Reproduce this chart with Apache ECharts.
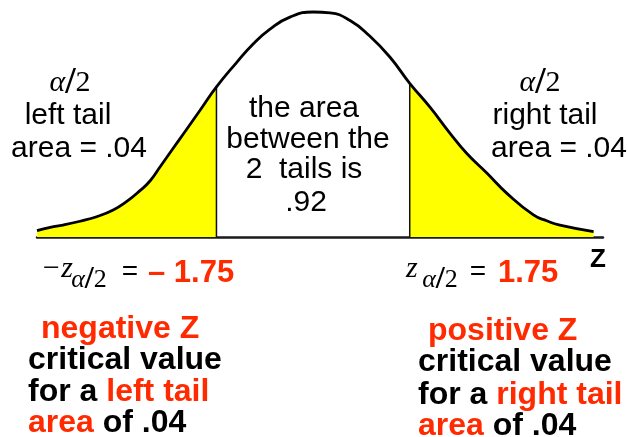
<!DOCTYPE html>
<html><head><meta charset="utf-8">
<script src="https://cdn.jsdelivr.net/npm/echarts@6/dist/echarts.min.js"></script>
<style>html,body{margin:0;padding:0;background:#fff}#c{width:628px;height:437px}</style>
</head><body><div id="c"></div>
<script>
// z position (standard units) and relative curve height
const zValues = [-5.0,-4.76,-4.53,-4.22,-3.92,-3.62,-3.38,-3.14,-2.95,-2.77,-2.54,-2.35,-2.05,-1.75,-1.39,-1.09,-0.78,-0.42,0,0.31,0.67,1.03,1.39,1.75,2.12,2.48,2.78,3.15,3.51,3.99,4.23,4.47,5.08];
const heights = [0.028,0.043,0.053,0.070,0.090,0.120,0.157,0.205,0.250,0.312,0.392,0.458,0.562,0.667,0.774,0.857,0.924,0.977,1.0,0.996,0.962,0.892,0.800,0.683,0.576,0.461,0.372,0.283,0.194,0.098,0.072,0.053,0.024];
const criticalValues = [-1.75, 1.75];
const tailArea = '.04';
const middleArea = '.92';

const RED = '#ff2a00';
const curve = zValues.map((z, i) => [z, heights[i]]);
const leftTail = curve.filter(p => p[0] <= criticalValues[0]);
const rightTail = curve.filter(p => p[0] >= criticalValues[1]);
const hAt = z => curve.find(p => p[0] === z)[1];

const chart = echarts.init(document.getElementById('c'), null, {renderer: 'canvas'});
const SANS = 'Liberation Sans, Arial, sans-serif';
const SERIF = 'Liberation Serif, Times New Roman, serif';
function t(x, y, text, opts) {
  return {type: 'text', z: 100, style: Object.assign({x: x, y: y, text: text, fill: '#000', font: '30px ' + SANS, align: 'center', verticalAlign: 'middle'}, opts || {})};
}
const richBase = {
  k: {fontFamily: SANS, fontWeight: 'bold', fontSize: 32, fill: '#000'},
  r: {fontFamily: SANS, fontWeight: 'bold', fontSize: 32, fill: RED}
};
function rt(x, y, text) {
  return {type: 'text', z: 100, style: {x: x, y: y, text: text, align: 'left', verticalAlign: 'middle', rich: richBase, font: 'bold 32px ' + SANS, fill: '#000'}};
}
function alpha2(x, y, size) {
  return {type: 'text', z: 100, style: {x: x, y: y, align: 'center', verticalAlign: 'middle',
    text: '{a|α}{s|/}{b|2}',
    rich: {
      a: {fontFamily: SERIF, fontStyle: 'italic', fontSize: size, fill: '#000'},
      s: {fontFamily: SERIF, fontWeight: 'bold', fontSize: size * 1.25, fill: '#000'},
      b: {fontFamily: SERIF, fontSize: size, fill: '#000'}
    }}};
}

chart.setOption({
  animation: false,
  grid: {left: 37, right: 25, top: 12, bottom: 200},
  xAxis: {type: 'value', min: -5.0, max: 5.25, axisLine: {onZero: true, lineStyle: {color: '#1a1a1a', width: 2.5}},
    axisTick: {show: false}, axisLabel: {show: false}, splitLine: {show: false}},
  yAxis: {type: 'value', min: 0, max: 1, show: false, splitLine: {show: false}},
  series: [
    {type: 'line', data: leftTail, smooth: 0.5, symbol: 'none', clip: false, lineStyle: {width: 0}, areaStyle: {color: '#ffff00', opacity: 1}, z: 1},
    {type: 'line', data: rightTail, smooth: 0.5, symbol: 'none', clip: false, lineStyle: {width: 0}, areaStyle: {color: '#ffff00', opacity: 1}, z: 1},
    {type: 'line', data: [[criticalValues[0], 0], [criticalValues[0], hAt(criticalValues[0])]], symbol: 'none', lineStyle: {color: '#111', width: 1.5}, z: 2},
    {type: 'line', data: [[criticalValues[1], 0], [criticalValues[1], hAt(criticalValues[1])]], symbol: 'none', lineStyle: {color: '#111', width: 1.5}, z: 2},
    {type: 'line', data: curve, smooth: 0.5, symbol: 'none', clip: false, lineStyle: {color: '#000', width: 2.8}, z: 3}
  ],
  graphic: [
    alpha2(70, 83, 30),
    t(68, 116, 'left tail'),
    t(79, 149, 'area = ' + tailArea),
    alpha2(540, 83, 30),
    t(545, 116, 'right tail'),
    t(559, 149, 'area = ' + tailArea),
    t(304, 109, 'the area'),
    t(308, 140, 'between the'),
    t(304, 170, '2  tails is'),
    t(306, 203, middleArea),
    // left critical value
    t(41, 269, '−z', {font: 'italic 30px ' + SERIF, align: 'left'}),
    alpha2(89, 280, 26),
    t(130, 272, '=', {font: '28px ' + SANS}),
    t(148, 273, '– ' + Math.abs(criticalValues[0]).toFixed(2), {font: 'bold 31px ' + SANS, fill: RED, align: 'left'}),
    // right critical value
    t(406, 269, 'z', {font: 'italic 30px ' + SERIF, align: 'left'}),
    alpha2(440, 280, 26),
    t(478, 272, '=', {font: '28px ' + SANS}),
    t(498, 273, criticalValues[1].toFixed(2), {font: 'bold 31px ' + SANS, fill: RED, align: 'left'}),
    t(598, 260, 'Z', {font: 'bold 26px ' + SANS}),
    // bottom explanations
    rt(41, 329, '{r|negative Z}'),
    rt(28, 360, '{k|critical value}'),
    rt(28, 392, '{k|for a }{r|left tail}'),
    rt(28, 423, '{r|area}{k| of .04}'),
    rt(428, 331, '{r|positive Z}'),
    rt(418, 362, '{k|critical value}'),
    rt(418, 395, '{k|for a }{r|right tail}'),
    rt(418, 426, '{r|area}{k| of .04}')
  ]
});
</script></body></html>
